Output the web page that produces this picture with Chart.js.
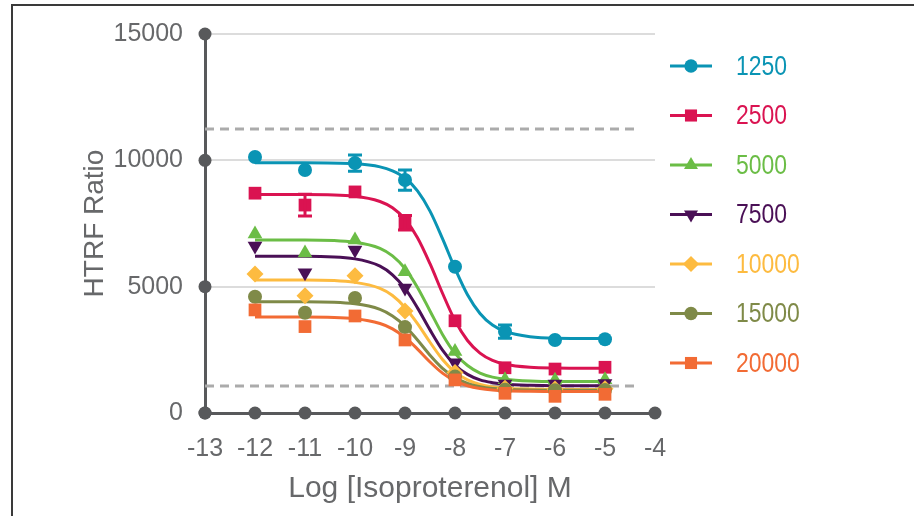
<!DOCTYPE html>
<html>
<head>
<meta charset="utf-8">
<script src="https://cdn.jsdelivr.net/npm/chart.js@4.4.1/dist/chart.umd.min.js"></script>
<style>
  html, body { margin: 0; padding: 0; background: #fff; }
</style>
</head>
<body>
<canvas id="htrf" width="914" height="516"></canvas>
<script>
// measured doses (log M) and tick values
const doseX = [-12, -11, -10, -9, -8, -7, -6, -5];
const fitX = [-12, -11, -10, -9.5, -9.25, -9, -8.75, -8.5, -8.25, -8, -7.75, -7.5, -7.25, -7, -6.5, -6, -5];
const xTicks = [-13, -12, -11, -10, -9, -8, -7, -6, -5, -4];
const yTicks = [0, 5000, 10000, 15000];

const seriesNames = ['1250', '2500', '5000', '7500', '10000', '15000', '20000'];
const seriesColors = ['#0a94b4', '#da1351', '#6bbd46', '#4a1056', '#fdbb40', '#7f8a48', '#f26b34'];

// points
const pts1250 = [10130, 9620, 9890, 9220, 5790, 3220, 2890, 2920];
const pts2500 = [8700, 8230, 8750, 7530, 3650, 1790, 1740, 1810];
const pts5000 = [7080, 6330, 6850, 5590, 2430, 1320, 1300, 1320];
const pts7500 = [6610, 5550, 6450, 4950, 1990, 1150, 1150, 1170];
const pts10000 = [5500, 4640, 5430, 4040, 1600, 980, 950, 960];
const pts15000 = [4600, 3970, 4550, 3400, 1440, 920, 900, 910];
const pts20000 = [4080, 3420, 3840, 2890, 1310, 780, 660, 740];

// error bars (+/-), 0 = none visible
const err1250 = [0, 0, 320, 400, 0, 260, 0, 0];
const err2500 = [0, 430, 0, 290, 0, 0, 0, 0];

// fitted curves, read at fitX
const fit1250 = [9900, 9900, 9860, 9740, 9580, 9300, 8790, 7990, 6900, 5720, 4680, 3940, 3480, 3230, 3020, 2960, 2950];
const fit2500 = [8650, 8650, 8580, 8370, 8120, 7670, 6940, 5910, 4740, 3660, 2870, 2370, 2080, 1930, 1810, 1780, 1770];
const fit5000 = [6850, 6850, 6760, 6520, 6220, 5720, 4970, 4040, 3110, 2360, 1880, 1580, 1420, 1340, 1270, 1250, 1250];
const fit7500 = [6200, 6200, 6100, 5810, 5470, 4930, 4160, 3290, 2490, 1900, 1530, 1310, 1200, 1140, 1095, 1080, 1080];
const fit10000 = [5260, 5260, 5170, 4930, 4650, 4180, 3540, 2800, 2120, 1620, 1310, 1130, 1030, 980, 945, 930, 930];
const fit15000 = [4400, 4400, 4320, 4100, 3840, 3440, 2890, 2290, 1770, 1400, 1170, 1040, 970, 940, 910, 900, 900];
const fit20000 = [3800, 3800, 3730, 3540, 3330, 2990, 2530, 2020, 1580, 1270, 1080, 970, 910, 880, 860, 850, 850];

// dashed reference levels
const refLevels = [11240, 1070];
const refStartX = -13;
const refEndX = -4.32;

const allPts = [pts1250, pts2500, pts5000, pts7500, pts10000, pts15000, pts20000];
const allFits = [fit1250, fit2500, fit5000, fit7500, fit10000, fit15000, fit20000];
const allErr = [err1250, err2500, null, null, null, null, null];

const markerStyle = ['circle', 'rect', 'triangle', 'triangle', 'rectRot', 'circle', 'rect'];
const markerRot = [0, 0, 0, 180, 0, 0, 0];
const markerSize = [7, 9, 8.5, 8.5, 8.5, 7, 9];

const AXIS = '#58595b';
const TEXT = '#67686a';
const SANS = "'Liberation Sans', Arimo, Arial, sans-serif";

const datasets = [];
refLevels.forEach(v => {
  datasets.push({
    data: [{x: refStartX, y: v}, {x: refEndX, y: v}],
    showLine: true,
    borderColor: '#ababab',
    borderWidth: 3,
    borderDash: [9, 6],
    pointRadius: 0,
    order: 50
  });
});
seriesNames.forEach((name, i) => {
  datasets.push({
    label: name + ' fit',
    data: fitX.map((x, k) => ({x: x, y: allFits[i][k]})),
    showLine: true,
    borderColor: seriesColors[i],
    borderWidth: 3,
    pointRadius: 0,
    cubicInterpolationMode: 'monotone',
    order: 20 - i
  });
  datasets.push({
    label: name,
    data: doseX.map((x, k) => ({x: x, y: allPts[i][k]})),
    showLine: false,
    backgroundColor: seriesColors[i],
    borderColor: seriesColors[i],
    borderWidth: 0,
    pointStyle: markerStyle[i],
    pointRotation: markerRot[i],
    pointRadius: markerSize[i],
    errors: allErr[i],
    order: 8 - i
  });
});

const errorBars = {
  id: 'errorBars',
  afterDatasetDraw(chart, args) {
    const ds = chart.data.datasets[args.index];
    if (!ds.errors) return;
    const {ctx, scales: {x, y}} = chart;
    ctx.save();
    ctx.strokeStyle = ds.borderColor;
    ctx.lineWidth = 3;
    ds.data.forEach((p, k) => {
      const e = ds.errors[k];
      if (!e) return;
      const px = x.getPixelForValue(p.x);
      const top = y.getPixelForValue(p.y + e);
      const bot = y.getPixelForValue(p.y - e);
      ctx.beginPath();
      ctx.moveTo(px, top); ctx.lineTo(px, bot);
      ctx.moveTo(px - 7, top); ctx.lineTo(px + 7, top);
      ctx.moveTo(px - 7, bot); ctx.lineTo(px + 7, bot);
      ctx.stroke();
    });
    ctx.restore();
  }
};

// round dots on every axis tick + the thin frame
const axisDots = {
  id: 'axisDots',
  beforeDraw(chart) {
    const ctx = chart.ctx;
    ctx.save();
    ctx.strokeStyle = '#3a3a3a';
    ctx.lineWidth = 2;
    ctx.beginPath();
    ctx.moveTo(11, 5); ctx.lineTo(914, 5);
    ctx.moveTo(12, 5); ctx.lineTo(12, 516);
    ctx.stroke();
    ctx.restore();
  },
  afterDraw(chart) {
    const {ctx, scales: {x, y}} = chart;
    ctx.save();
    ctx.fillStyle = AXIS;
    const x0 = x.getPixelForValue(xTicks[0]);
    const y0 = y.getPixelForValue(yTicks[0]);
    xTicks.forEach(v => {
      ctx.beginPath();
      ctx.arc(x.getPixelForValue(v), y0, 6.5, 0, Math.PI * 2);
      ctx.fill();
    });
    yTicks.forEach(v => {
      ctx.beginPath();
      ctx.arc(x0, y.getPixelForValue(v), 6.5, 0, Math.PI * 2);
      ctx.fill();
    });
    ctx.restore();
  }
};

// legend on the right, text squeezed a bit like the condensed face of the original
const sideLegend = {
  id: 'sideLegend',
  afterDraw(chart) {
    const ctx = chart.ctx;
    ctx.save();
    ctx.font = '28px ' + SANS;
    ctx.textBaseline = 'middle';
    ctx.textAlign = 'left';
    seriesNames.forEach((name, i) => {
      const ly = 66 + i * 49.5;
      ctx.strokeStyle = seriesColors[i];
      ctx.fillStyle = seriesColors[i];
      ctx.lineWidth = 3;
      ctx.beginPath();
      ctx.moveTo(670, ly); ctx.lineTo(712, ly);
      ctx.stroke();
      Chart.helpers.drawPoint(ctx, {
        pointStyle: markerStyle[i],
        rotation: markerRot[i],
        radius: markerSize[i] * 0.95,
        borderWidth: 0
      }, 691, ly);
      ctx.save();
      ctx.translate(736, ly + 1);
      ctx.scale(0.82, 1);
      ctx.fillText(name, 0, 0);
      ctx.restore();
    });
    ctx.restore();
  }
};

new Chart(document.getElementById('htrf'), {
  type: 'scatter',
  data: { datasets: datasets },
  options: {
    responsive: false,
    animation: false,
    layout: { padding: { top: 34, right: 259, left: 0, bottom: 0 } },
    plugins: { legend: { display: false }, tooltip: { enabled: false } },
    scales: {
      x: {
        type: 'linear',
        min: -13, max: -4,
        afterFit(scale) { scale.height = 103; scale.paddingLeft = 0; scale.paddingRight = 0; },
        afterBuildTicks(scale) { scale.ticks = xTicks.map(v => ({value: v})); },
        grid: { display: false, drawTicks: false },
        border: { color: AXIS, width: 3 },
        ticks: { color: TEXT, padding: 21, font: { size: 25, family: SANS }, callback: v => String(v) },
        title: {
          display: true,
          text: 'Log [Isoproterenol] M',
          color: TEXT,
          font: { size: 30, family: SANS },
          padding: { top: 0, bottom: 9 }
        }
      },
      y: {
        min: 0, max: 15000,
        afterFit(scale) { scale.width = 205; scale.paddingTop = 0; scale.paddingBottom = 0; },
        afterBuildTicks(scale) { scale.ticks = yTicks.map(v => ({value: v})); },
        grid: { color: '#dcdcdc', lineWidth: 2, drawTicks: false },
        border: { color: AXIS, width: 3 },
        ticks: { color: TEXT, padding: 22, font: { size: 25, family: SANS }, callback: v => String(v) },
        title: {
          display: true,
          text: 'HTRF Ratio',
          color: TEXT,
          font: { size: 28, family: SANS },
          padding: { top: 78, bottom: 0 }
        }
      }
    }
  },
  plugins: [errorBars, axisDots, sideLegend]
});
</script>
</body>
</html>
